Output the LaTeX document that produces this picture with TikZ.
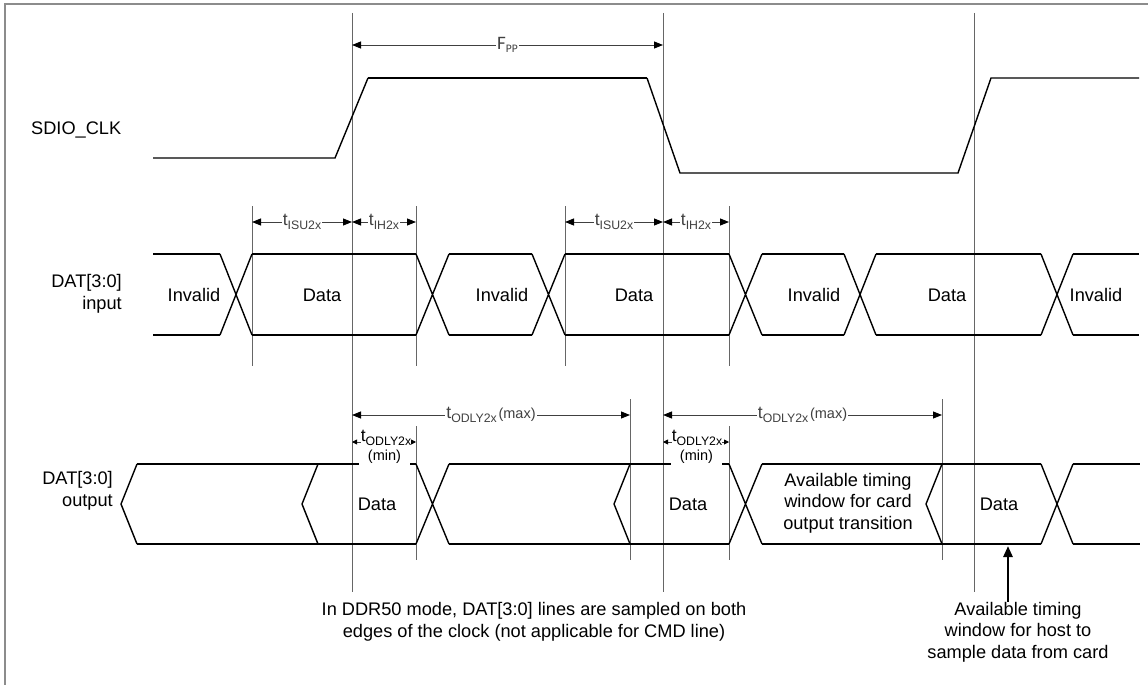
\documentclass[tikz,border=0pt]{standalone}
\usepackage{fontspec}
\setmainfont{Liberation Sans}
\newfontfamily\calfont{Carlito}
\usetikzlibrary{arrows.meta}

\newcommand{\txtfont}{\fontsize{18.2}{21.5}\selectfont}
\newcommand{\subfont}{\fontsize{12.3}{13}\selectfont}
\newcommand{\paren}{\fontsize{14.5}{15}\selectfont}
\newcommand{\tsub}[1]{{\fontsize{17.5}{18}\selectfont t}\raisebox{-3.5pt}{\subfont #1}}

\begin{document}
\begin{tikzpicture}[x=1pt,y=-1pt,
	sig/.style={line width=1.4pt},
	sigbold/.style={line width=2.8pt},
	guide/.style={black!60,line width=0.9pt},
	dim/.style={black!75,line width=0.9pt,{Triangle[length=9pt,width=7pt,black]}-{Triangle[length=9pt,width=7pt,black]}},
	tipsmall/.style={black!75,line width=0.9pt,-{Triangle[length=5pt,width=5pt,black]}},
	txt/.style={font=\txtfont,inner sep=0pt},
	tag/.style={fill=white,inner sep=1pt}]
				\useasboundingbox (0,0) rectangle (1148,685);
				
				% frame
				\draw[black!45,line width=1.2pt] (5,685) -- (5,4) -- (1148,4);
				
				% clock edges and guides
				\draw[guide] (352,13) -- (352,592);
				\draw[guide] (663,13) -- (663,592);
				\draw[guide] (974,13) -- (974,592);
				\foreach \x in {252,416,565,729}
					\draw[guide] (\x,206) -- (\x,366);
				\foreach \x in {416,729}
					\draw[guide] (\x,426) -- (\x,560);
				\foreach \x in {630,942}
					\draw[guide] (\x,399) -- (\x,560);
				
				% SDIO_CLK
				\node[txt,anchor=west] (clklbl) at (31,130) {SDIO\_CLK};
				\draw[sig] (153,158) -- (335,158) -- (368,78);
				\draw[sigbold] (368,78) -- (647,78);
				\draw[sig] (647,78) -- (680,173) -- (958,173) -- (991,78) -- (1139,78);
				\draw[dim] (352,45) -- node[tag] (fpp) {\calfont\fontsize{19}{19}\selectfont F\raisebox{-3pt}{\fontsize{11.5}{12}\selectfont PP}} (663,45);
				
				% DAT input
				\node[txt,align=right,anchor=east] (inlbl) at (122,294) {DAT[3:0]\\input};
				\foreach \a/\b in {220/252,416/449,532/565,729/762,844/876,1041/1073}
					\draw[sig] (\a,254) -- (\b,335) (\a,335) -- (\b,254);
				\foreach \a/\b in {153/220,449/532,762/844,1073/1139}
					\draw[sig] (\a,254) -- (\b,254) (\a,335) -- (\b,335);
				\foreach \a/\b in {252/416,565/729,876/1041} {
					\draw[sigbold] (\a,254) -- (\b,254);
					\draw[sig] (\a,335) -- (\b,335);
				}
				\node[txt] (inv1) at (194,295) {Invalid};
				\node[txt] (dat1) at (322,295) {Data};
				\node[txt] (inv2) at (502,295) {Invalid};
				\node[txt] (dat2) at (634,295) {Data};
				\node[txt] (inv3) at (814,295) {Invalid};
				\node[txt] (dat3) at (947,295) {Data};
				\node[txt] (inv4) at (1096,295) {Invalid};
				
				\draw[dim] (252,222) -- node[tag] (isu1) {\tsub{ISU2x}} (352,222);
				\draw[dim] (352,222) -- node[tag] (ih1) {\tsub{IH2x}} (416,222);
				\draw[dim] (565,222) -- node[tag] (isu2) {\tsub{ISU2x}} (663,222);
				\draw[dim] (663,222) -- node[tag] (ih2) {\tsub{IH2x}} (729,222);
				
				% DAT output
				\node[txt,align=right,anchor=east] (outlbl) at (113,491) {DAT[3:0]\\output};
				\draw[sig] (137,464) -- (121,504) -- (137,544);
				\foreach \x in {318,630,942}
					\draw[sig] (\x,464) -- ({\x-16},504) -- (\x,544);
				\foreach \a/\b in {416/449,729/762,1041/1073}
					\draw[sig] (\a,464) -- (\b,544) (\a,544) -- (\b,464);
				\foreach \a/\b in {137/416,449/729,762/1041,1073/1140}
					\draw[sig] (\a,464) -- (\b,464);
				\draw[sig] (253,544) -- (416,544);
				\foreach \a/\b in {137/253,449/729,762/1041,1073/1140}
					\draw[sigbold] (\a,544) -- (\b,544);
				\node[txt] (dat4) at (377,504) {Data};
				\node[txt] (dat5) at (688,504) {Data};
				\node[txt] (dat6) at (999,504) {Data};
				\node[txt,align=center] (cardwin) at (848,503) {Available timing\\window for card\\output transition};
				
				\draw[dim] (352,415) -- node[tag] (odmax1) {\tsub{ODLY2x}\,{\paren(max)}} (630,415);
				\draw[dim] (663,415) -- node[tag] (odmax2) {\tsub{ODLY2x}\,{\paren(max)}} (942,415);
				
				% min delay: (min) hides the top line under it
				\coordinate (minrow) at (0,442);
				\node[fill=white,anchor=north,inner sep=0pt,minimum width=51pt,minimum height=18pt] (min1) at (384.5,448) {\paren(min)};
				\node[fill=white,anchor=north,inner sep=0pt,minimum width=51pt,minimum height=18pt] (min2) at (696.5,448) {\paren(min)};
				\node[inner sep=0pt] (odmin1) at (386,438) {\tsub{ODLY2x}};
				\node[inner sep=0pt] (odmin2) at (697,438) {\tsub{ODLY2x}};
				\draw[tipsmall] (odmin1.west |- minrow) -- (352,442);
				\draw[tipsmall] (odmin1.east |- minrow) -- (416,442);
				\draw[tipsmall] (odmin2.west |- minrow) -- (663,442);
				\draw[tipsmall] (odmin2.east |- minrow) -- (729,442);
				
				% notes
				\node[txt,align=center] (ddrnote) at (534,622) {In DDR50 mode, DAT[3:0] lines are sampled on both\\edges of the clock (not applicable for CMD line)};
				\node[txt,align=center] (hostnote) at (1018,632) {Available timing\\window for host to\\sample data from card};
				\coordinate (hostpt) at (1008,546);
				\draw[line width=2.6pt,-{Triangle[length=11pt,width=9pt]}] (hostnote.north -| hostpt) -- (hostpt);
			\end{tikzpicture}
\end{document}
